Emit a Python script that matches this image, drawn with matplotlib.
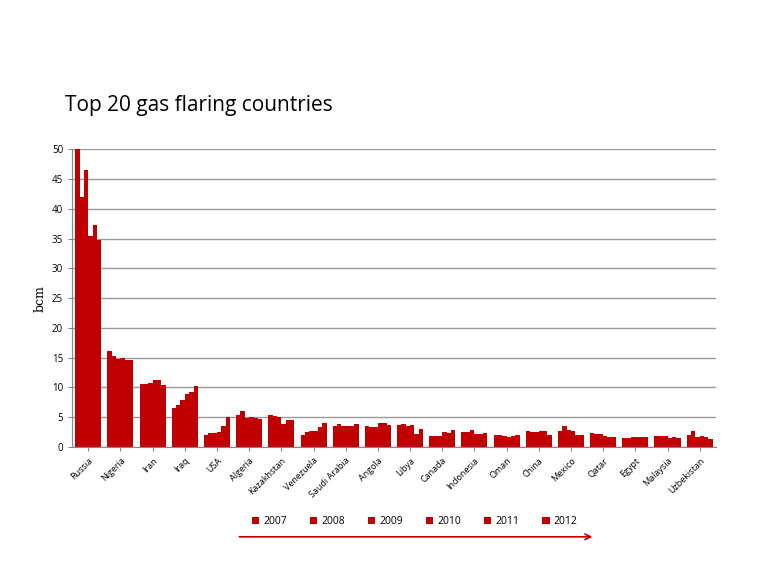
import matplotlib
matplotlib.use("Agg")
import matplotlib.pyplot as plt
import numpy as np

countries = ["Russia","Nigeria","Iran","Iraq","USA","Algeria","Kazakhstan","Venezuela","Saudi Arabia","Angola",
             "Libya","Canada","Indonesia","Oman","China","Mexico","Qatar","Egypt","Malaysia","Uzbekistan"]
years = ["2007","2008","2009","2010","2011","2012"]
y2007 = [50.0,16.1,10.5,6.5,2.0,5.4,5.3,2.0,3.6,3.5,3.7,1.8,2.5,2.0,2.6,2.6,2.3,1.5,1.8,2.0]
y2008 = [42.0,15.3,10.5,7.0,2.4,6.0,5.2,2.5,3.8,3.4,3.8,1.8,2.5,2.0,2.5,3.5,2.2,1.5,1.9,2.7]
y2009 = [46.5,14.8,10.7,7.9,2.4,4.8,5.0,2.6,3.6,3.4,3.5,1.8,2.8,1.9,2.5,2.9,2.2,1.6,1.9,1.7]
y2010 = [35.5,14.9,11.3,8.9,2.5,5.1,3.8,2.7,3.6,4.0,3.7,2.5,2.2,1.7,2.6,2.6,1.8,1.6,1.5,1.8]
y2011 = [37.3,14.6,11.3,9.3,3.6,4.9,4.6,3.4,3.6,4.0,2.2,2.4,2.2,1.8,2.6,2.0,1.7,1.6,1.6,1.6]
y2012 = [34.8,14.6,10.4,10.2,5.0,4.7,4.5,4.1,3.8,3.7,3.0,2.8,2.3,2.0,2.0,2.0,1.7,1.6,1.5,1.3]
series = [y2007,y2008,y2009,y2010,y2011,y2012]

red = "#C00000"
plt.rcParams['font.family'] = ['Open Sans', 'DejaVu Sans']
fig = plt.figure(figsize=(7.68,5.76), dpi=100)
ax = fig.add_axes([0.094,0.224,0.838,0.517])
x = np.arange(len(countries))
w = 0.135
for i,(yr,s) in enumerate(zip(years,series)):
    ax.bar(x - 2.5*w + i*w, s, width=w, color=red, label=yr, linewidth=0)
ax.set_xlim(-0.5, len(countries)-0.5)
ax.set_ylim(0,50)
ax.set_yticks(range(0,51,5))
ax.yaxis.grid(True, color="#999999", linewidth=1)
ax.set_axisbelow(True)
ax.set_xticks(x)
ax.set_xticklabels(countries, rotation=45, ha="right", rotation_mode="anchor", fontsize=6.5)
ax.tick_params(axis='y', labelsize=7, length=3, color="#888888")
ax.tick_params(axis='x', length=3, color="#888888")
for sp in ["top","right"]:
    ax.spines[sp].set_visible(False)
for sp in ["left","bottom"]:
    ax.spines[sp].set_color("#888888")
ax.set_ylabel("bcm", fontsize=9, family="DejaVu Serif")
fig.text(0.085, 0.817, "Top 20 gas flaring countries", fontsize=15, va="center")
leg = fig.legend(loc="center", bbox_to_anchor=(0.54, 0.094), ncol=6, frameon=False, fontsize=7.5,
                 handlelength=0.7, handleheight=0.7, columnspacing=2.2, handletextpad=0.4)
fig.add_artist(matplotlib.patches.FancyArrowPatch((0.308,0.068),(0.775,0.068), transform=fig.transFigure,
               arrowstyle="->", mutation_scale=10, color=red, linewidth=1.2))
fig.savefig("out.png", dpi=100)
